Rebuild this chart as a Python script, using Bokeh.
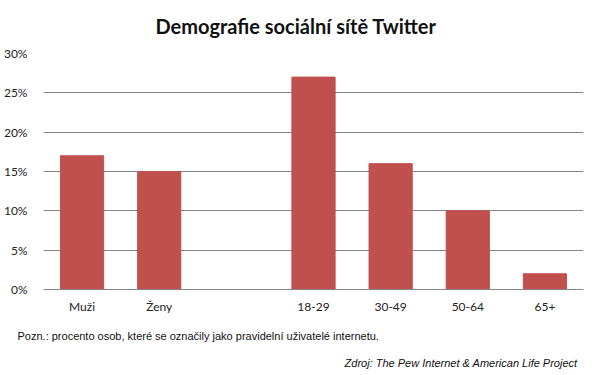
from bokeh.plotting import figure
from bokeh.models import PrintfTickFormatter, FixedTicker, Range1d, Title
from bokeh.embed import file_html
from bokeh.resources import INLINE

categories = ["Muži", "Ženy", " ", "18-29", "30-49", "50-64", "65+"]
bar_categories = ["Muži", "Ženy", "18-29", "30-49", "50-64", "65+"]
values = [17, 15, 27, 16, 10, 2]
y_ticks = [0, 5, 10, 15, 20, 25, 30]
title_text = "Demografie sociální sítě Twitter"
note_text = "Pozn.: procento osob, které se označily jako pravidelní uživatelé internetu."
source_text = "Zdroj: The Pew Internet & American Life Project"

p = figure(x_range=categories, y_range=Range1d(0, 30), width=597, height=375,
           output_backend="svg", toolbar_location=None,
           min_border_left=42, min_border_right=14, min_border_top=53, min_border_bottom=86)
p.outline_line_color = None
p.background_fill_color = "white"
p.border_fill_color = "white"

p.vbar(x=bar_categories, top=values, width=0.56, color="#C0504D")

p.yaxis.ticker = FixedTicker(ticks=y_ticks)
p.yaxis.formatter = PrintfTickFormatter(format="%d%%")
p.yaxis.axis_line_color = None
p.yaxis.major_tick_line_color = None
p.yaxis.minor_tick_line_color = None
p.yaxis.major_label_text_font = "Lato"
p.yaxis.major_label_text_font_size = "12px"
p.yaxis.major_label_text_color = "#222222"
p.yaxis.major_label_standoff = 10

p.xaxis.axis_line_color = "#868686"
p.xaxis.major_tick_line_color = None
p.xaxis.minor_tick_line_color = None
p.xaxis.major_label_text_font = "Lato"
p.xaxis.major_label_text_font_size = "12px"
p.xaxis.major_label_text_color = "#222222"
p.xaxis.major_label_standoff = 3

p.xgrid.grid_line_color = None
p.ygrid.grid_line_color = "#868686"
p.ygrid.grid_line_width = 1

p.title = Title(text=title_text, align="left", offset=112, text_font="Lato", text_font_style="bold",
                text_font_size="20px", text_color="#111111", standoff=27, vertical_align="top")
p.add_layout(Title(text=note_text, align="left", offset=-26, text_font="Liberation Sans",
                   text_font_style="normal", text_font_size="11px", text_color="#111111",
                   standoff=23), "below")
p.add_layout(Title(text=source_text, align="right", offset=6, text_font="Liberation Sans",
                   text_font_style="italic", text_font_size="11px", text_color="#111111",
                   standoff=3), "below")

open("out.html", "w").write(file_html(p, INLINE))
